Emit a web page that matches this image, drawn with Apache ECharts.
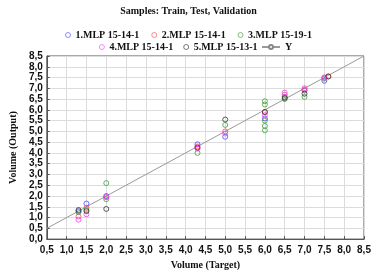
<!DOCTYPE html>
<html>
<head>
<meta charset="utf-8">
<script src="https://cdn.jsdelivr.net/npm/echarts@6/dist/echarts.min.js"></script>
<style>
  html, body { margin: 0; padding: 0; background: #fff; }
  #chart { width: 377px; height: 275px; }
</style>
</head>
<body>
<div id="chart"></div>
<script>
const seriesNames = ['1.MLP 15-14-1', '2.MLP 15-14-1', '3.MLP 15-19-1', '4.MLP 15-14-1', '5.MLP 15-13-1']
const seriesColors = ['#4a4aff', '#ff4a4a', '#3f9f3f', '#ff3cff', '#333333']

// [target, output] pairs per network
const mlp1 = [[1.3, 1.3], [1.5, 1.65], [2.0, 2.0], [4.3, 4.4], [5.0, 4.75], [6.0, 5.6], [6.5, 6.6], [7.0, 6.9], [7.5, 7.35]]
const mlp2 = [[1.3, 1.05], [1.5, 1.45], [2.0, 1.95], [4.3, 4.3], [5.0, 5.0], [6.0, 5.9], [6.5, 6.7], [7.0, 6.95], [7.5, 7.5], [7.6, 7.55]]
const mlp3 = [[1.3, 1.25], [1.5, 1.35], [2.0, 2.6], [2.0, 1.85], [4.3, 4.0], [5.0, 5.3], [6.0, 5.05], [6.0, 5.25], [6.0, 5.5], [6.0, 6.25], [6.0, 6.4], [6.5, 6.5], [7.0, 6.6], [7.5, 7.45]]
const mlp4 = [[1.3, 0.9], [1.5, 1.15], [2.0, 1.95], [4.3, 4.2], [5.0, 4.9], [6.0, 5.75], [6.5, 6.8], [7.0, 7.0], [7.5, 7.5]]
const mlp5 = [[1.3, 1.35], [1.5, 1.3], [2.0, 1.4], [4.3, 4.25], [5.0, 5.55], [6.0, 5.9], [6.5, 6.55], [7.0, 6.75], [7.6, 7.55]]
const idealLine = [[0.5, 0.5], [8.5, 8.5]]

const allData = [mlp1, mlp2, mlp3, mlp4, mlp5]
const fmt = (v) => v.toFixed(1).replace('.', ',')
const serif = 'Liberation Serif'
const sans = 'Liberation Sans'

const chart = echarts.init(document.getElementById('chart'))

const axisCommon = {
  type: 'value',
  interval: 0.5,
  axisLine: { show: true, onZero: false, lineStyle: { color: '#555', width: 1 } },
  axisTick: { show: true, inside: true, length: 3, lineStyle: { color: '#555' } },
  splitLine: { show: true, lineStyle: { color: '#dcdcdc', width: 1 } },
  axisLabel: { color: '#111', fontFamily: sans, fontWeight: 'bold', fontSize: 10, formatter: fmt },
  nameLocation: 'middle',
  nameTextStyle: { fontFamily: serif, fontWeight: 'bold', fontSize: 10, color: '#111' },
}

const legendText = { fontFamily: serif, fontWeight: 'bold', fontSize: 10, color: '#111' }
const legendBase = {
  itemWidth: 5, itemHeight: 5, itemGap: 10,
  textStyle: legendText,
  itemStyle: { borderWidth: 0.8 },
}

chart.setOption({
  animation: false,
  title: {
    text: 'Samples: Train, Test, Validation',
    left: 'center',
    top: 1,
    textStyle: { fontFamily: serif, fontWeight: 'bold', fontSize: 10, color: '#111' },
  },
  legend: [
    { ...legendBase, data: seriesNames.slice(0, 3), top: 25, left: 'center', itemGap: 12 },
    { ...legendBase, data: seriesNames.slice(3), top: 37, left: 94 },
    { ...legendBase, data: ['Y'], top: 37, left: 256, itemWidth: 18, itemStyle: {} },
  ],
  grid: { left: 35, right: 13, top: 56, bottom: 32, show: true, borderColor: '#555', borderWidth: 1 },
  xAxis: {
    ...axisCommon,
    min: 0.5, max: 8.5,
    name: 'Volume (Target)',
    nameGap: 20,
    axisLabel: { ...axisCommon.axisLabel, margin: 6 },
  },
  yAxis: {
    ...axisCommon,
    min: 0, max: 8.5,
    name: 'Volume (Output)',
    nameGap: 24,
    axisLabel: { ...axisCommon.axisLabel, margin: 4 },
  },
  series: [
    ...allData.map((d, i) => ({
      name: seriesNames[i],
      type: 'scatter',
      symbol: 'circle',
      symbolSize: 5,
      itemStyle: { color: 'rgba(0,0,0,0)', borderColor: seriesColors[i], borderWidth: 1 },
      data: d,
      z: 3,
    })),
    {
      name: 'Y',
      type: 'line',
      data: idealLine,
      symbol: 'emptyCircle',
      showSymbol: false,
      symbolSize: 5,
      itemStyle: { color: '#888' },
      lineStyle: { color: '#999', width: 1 },
      z: 2,
    },
  ],
})
</script>
</body>
</html>
